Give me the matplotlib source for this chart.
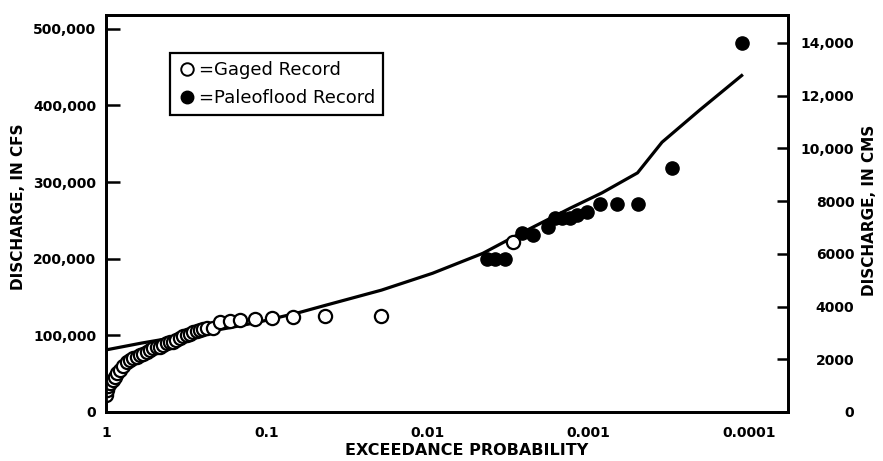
import matplotlib
matplotlib.use("Agg")
import matplotlib.pyplot as plt
from matplotlib.lines import Line2D
from matplotlib.ticker import FixedLocator, FixedFormatter

plt.rcParams['font.family'] = ['DejaVu Sans']

# Gaged record (open circles): exceedance probability, discharge (cfs)
gaged_p = [0.995, 0.986, 0.965, 0.944, 0.910, 0.879, 0.850, 0.819, 0.780, 0.741,
           0.710, 0.680, 0.645, 0.615, 0.585, 0.556, 0.530, 0.511, 0.485, 0.462,
           0.440, 0.418, 0.400, 0.384, 0.365, 0.347, 0.330, 0.314, 0.300, 0.288,
           0.273, 0.261, 0.248, 0.236, 0.217, 0.196, 0.170, 0.147, 0.119, 0.093,
           0.069, 0.0437, 0.0194, 0.00297]
gaged_q = [22000, 29000, 34000, 38000, 42000, 46000, 51000, 55000, 60000, 65000,
           68000, 70000, 72000, 74000, 76000, 78000, 81000, 84000, 85000, 85000,
           88000, 90000, 91000, 91000, 94000, 97000, 99000, 100000, 102000, 104000,
           106000, 107000, 108000, 110000, 110000, 117000, 119000, 120000, 121000, 122000,
           124000, 125000, 125000, 222000]

# Paleoflood record (filled circles)
paleo_p = [0.00430, 0.00384, 0.00333, 0.00261, 0.00223, 0.00180, 0.00163, 0.00147,
           0.00131, 0.00119, 0.00103, 0.000855, 0.000670, 0.000497, 0.000305, 0.000112]
paleo_q = [200000, 200000, 200000, 233000, 231000, 242000, 253000, 253000,
           253000, 257000, 261000, 272000, 272000, 272000, 318000, 482000]

# Fitted frequency curve
curve_p = [1.0, 0.598, 0.261, 0.170, 0.114, 0.0624, 0.0436, 0.0194, 0.00934,
           0.00455, 0.00295, 0.00130, 0.000825, 0.000497, 0.000350, 0.000204, 0.000112]
curve_q = [81000, 90000, 103000, 110000, 117000, 130000, 139000, 159000, 181000,
           207000, 228000, 266000, 286000, 312000, 352000, 394000, 439000]

x_ticks = [1, 0.1, 0.01, 0.001, 0.0001]
x_labels = ["1", "0.1", "0.01", "0.001", "0.0001"]
left_ticks = [0, 100000, 200000, 300000, 400000, 500000]
left_labels = ["0", "100,000", "200,000", "300,000", "400,000", "500,000"]
right_ticks = [0, 2000, 4000, 6000, 8000, 10000, 12000, 14000]
right_labels = ["0", "2000", "4000", "6000", "8000", "10,000", "12,000", "14,000"]

fig = plt.figure(figsize=(8.83, 4.61), dpi=100)
ax = fig.add_axes([0.120, 0.1063, 0.772, 0.8612])

ax.plot(curve_p, curve_q, color='black', lw=2.3, zorder=2)
ax.plot(gaged_p, gaged_q, linestyle='none', marker='o', markersize=9.5,
        markerfacecolor='white', markeredgecolor='black', markeredgewidth=1.6, zorder=3)
ax.plot(paleo_p, paleo_q, linestyle='none', marker='o', markersize=9.5,
        markerfacecolor='black', markeredgecolor='black', zorder=4)

ax.set_xscale('log')
ax.set_xlim(1, 5.8e-5)
ax.set_ylim(0, 518000)

ax.xaxis.set_major_locator(FixedLocator(x_ticks))
ax.xaxis.set_major_formatter(FixedFormatter(x_labels))
ax.xaxis.set_minor_locator(FixedLocator([]))
ax.tick_params(axis='x', length=0, pad=10, labelsize=10)
for t in ax.get_xticklabels():
    t.set_fontweight('bold')

ax.yaxis.set_major_locator(FixedLocator(left_ticks))
ax.yaxis.set_major_formatter(FixedFormatter(left_labels))
ax.tick_params(axis='y', direction='in', length=10, width=1.8, pad=7, labelsize=10)
for t in ax.get_yticklabels():
    t.set_fontweight('bold')

for s in ax.spines.values():
    s.set_linewidth(2.0)

ax.set_xlabel("EXCEEDANCE PROBABILITY", fontsize=11.5, fontweight='bold')
ax.xaxis.set_label_coords(0.529, -0.078)
ax.set_ylabel("DISCHARGE, IN CFS", fontsize=11, fontweight='bold')
ax.yaxis.set_label_coords(-0.117, 0.516)

ax2 = ax.twinx()
ax2.set_ylim(0, 15061)
ax2.yaxis.set_major_locator(FixedLocator(right_ticks))
ax2.yaxis.set_major_formatter(FixedFormatter(right_labels))
ax2.tick_params(axis='y', direction='in', length=8, width=1.8, pad=48, labelsize=10)
for t in ax2.get_yticklabels():
    t.set_fontweight('bold')
    t.set_horizontalalignment('right')
for s in ax2.spines.values():
    s.set_linewidth(2.0)
ax2.set_ylabel("DISCHARGE, IN CMS", fontsize=11, fontweight='bold')
ax2.yaxis.set_label_coords(1.1085, 0.509)

handles = [
    Line2D([], [], linestyle='none', marker='o', markersize=9, markerfacecolor='white',
           markeredgecolor='black', markeredgewidth=1.4),
    Line2D([], [], linestyle='none', marker='o', markersize=9, markerfacecolor='black',
           markeredgecolor='black'),
]
leg = ax.legend(handles, ["=Gaged Record", "=Paleoflood Record"], loc='upper left',
                bbox_to_anchor=(0.094, 0.904), frameon=True, fancybox=False,
                framealpha=1, edgecolor='black',
                prop={'size': 13}, handlelength=1.0, handletextpad=0.15,
                borderpad=0.45, labelspacing=0.55, borderaxespad=0)
leg.get_frame().set_linewidth(1.6)

fig.savefig("out.png", dpi=100)
